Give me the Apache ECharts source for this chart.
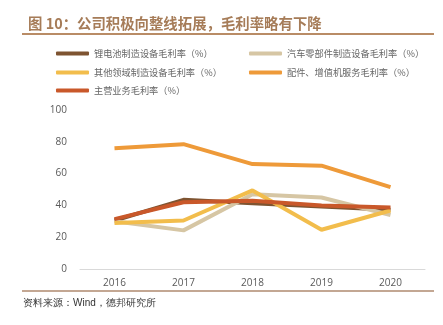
<!DOCTYPE html>
<html><head><meta charset="utf-8">
<script src="https://cdn.jsdelivr.net/npm/echarts@6/dist/echarts.min.js"></script>
<style>html,body{margin:0;padding:0;background:#fff}#c{width:443px;height:325px}</style>
</head><body><div id="c"></div>
<script>
var categories = ['2016','2017','2018','2019','2020'];
var liBattery = [30.5, 43.5, 41.4, 39.3, 37.2];
var autoParts = [30, 24.3, 47, 45, 34];
var otherFields = [28.9, 30.5, 49.4, 24.7, 36.8];
var partsService = [76, 78.5, 66, 65, 51.5];
var mainBusiness = [31.4, 42, 43, 40, 38.7];
var names = ['锂电池制造设备毛利率（%）','汽车零部件制造设备毛利率（%）','其他领域制造设备毛利率（%）','配件、增值机服务毛利率（%）','主营业务毛利率（%）'];
var colors = ['#7E5431','#D6C6A4','#F2BD4C','#EE9A39','#C9582A'];
var dataSets = [liBattery, autoParts, otherFields, partsService, mainBusiness];
var legendPos = [[56,49],[249,49],[56,68],[249,68],[56,86]];
var chart = echarts.init(document.getElementById('c'));
var font = '"Noto Sans CJK SC", sans-serif';
chart.setOption({
  animation:false,
  color: colors,
  title:{text:'图 10：公司积极向整线拓展，毛利率略有下降', left:23, top:11,
    textStyle:{fontSize:14.4, fontWeight:'bold', color:'#A67C58', fontFamily:font}},
  legend: names.map(function(n,i){return {data:[n], left:legendPos[i][0], top:legendPos[i][1],
    icon:'roundRect', itemWidth:33, itemHeight:4, padding:0,
    textStyle:{fontSize:9.2, color:'#666', fontFamily:font}};}),
  grid:{left:80, right:18, top:110, bottom:56},
  xAxis:{type:'category', data:categories, boundaryGap:true,
    axisLine:{lineStyle:{color:'#D9D9D9', width:1}}, axisTick:{show:false},
    axisLabel:{color:'#595959', fontSize:10, margin:9, fontFamily:'"Open Sans", sans-serif'}},
  yAxis:{type:'value', min:0, max:100, interval:20, splitLine:{show:false},
    axisLine:{show:false}, axisTick:{show:false},
    axisLabel:{color:'#595959', fontSize:10, margin:13, fontFamily:'"Open Sans", sans-serif'}},
  series: dataSets.map(function(d,i){return {name:names[i], type:'line', data:d, symbol:'none',
    lineStyle:{width:4, color:colors[i]}, z: i===4?5:2};}),
  graphic:[
    {type:'line', shape:{x1:22,y1:34,x2:434,y2:34}, style:{stroke:'#B98C66', lineWidth:2}},
    {type:'line', shape:{x1:22,y1:291,x2:434,y2:291}, style:{stroke:'#C3A793', lineWidth:2}},
    {type:'text', left:23, top:298, style:{text:'资料来源：Wind，德邦研究所', fontSize:10, fill:'#333', font:'10px "Noto Sans CJK SC", sans-serif'}}
  ]
});
</script></body></html>
